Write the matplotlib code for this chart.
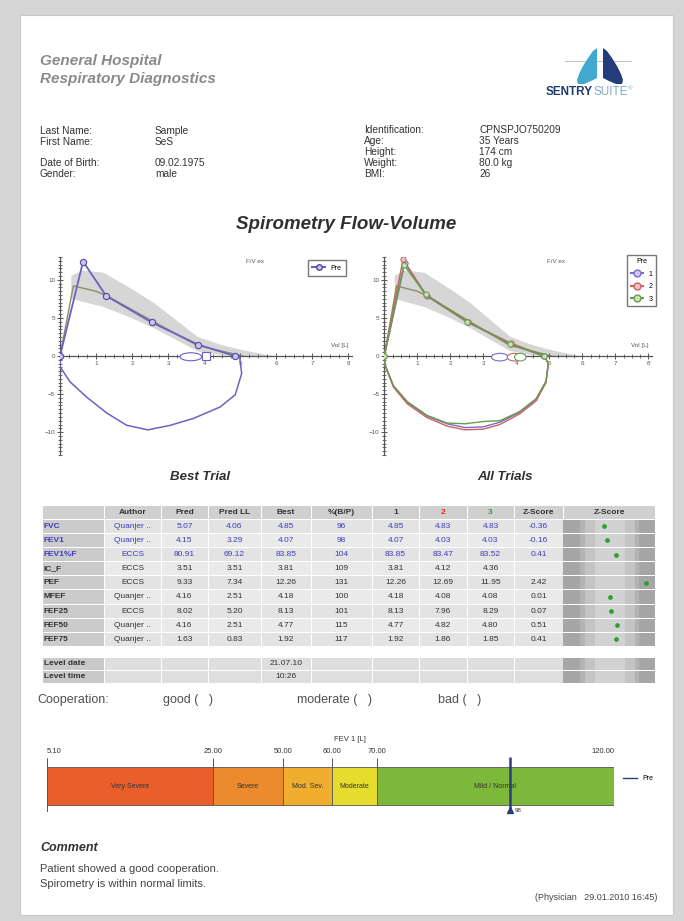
import numpy as np
import matplotlib
matplotlib.use('Agg')
import matplotlib.pyplot as plt
from matplotlib.patches import Rectangle, Ellipse, Polygon
from matplotlib.lines import Line2D
from matplotlib.ticker import MultipleLocator

plt.rcParams['font.family'] = ['Liberation Sans', 'DejaVu Sans']

# ---------------- data ----------------
hospital_lines = ["General Hospital", "Respiratory Diagnostics"]
left_labels = ["Last Name:", "First Name:", "Date of Birth:", "Gender:"]
left_values = ["Sample", "SeS", "09.02.1975", "male"]
right_labels = ["Identification:", "Age:", "Height:", "Weight:", "BMI:"]
right_values = ["CPNSPJO750209", "35 Years", "174 cm", "80.0 kg", "26"]

# predicted curve and normal band (flow-volume)
pred_vol = [0.0, 0.37, 1.0, 1.3, 2.6, 3.8, 5.07]
pred_flow = [0.0, 9.2, 8.5, 7.9, 4.5, 1.4, 0.0]
band_vol = [0.3, 0.6, 1.2, 2.0, 2.6, 3.2, 3.8, 4.4, 4.9, 5.5, 6.0]
band_upper = [10.6, 11.3, 11.0, 8.8, 7.0, 4.8, 2.6, 1.6, 1.0, 0.4, 0.0]
band_lower = [7.6, 7.2, 6.5, 5.0, 3.7, 2.2, 0.7, 0.2, 0.0, 0.0, 0.0]

# best trial
best_exp_vol = [0.0, 0.64, 1.28, 2.55, 3.83, 4.85]
best_exp_flow = [0.0, 12.4, 7.9, 4.4, 1.5, 0.0]
best_insp_vol = [0.0, 0.0, 0.28, 0.74, 1.3, 1.85, 2.44, 3.06, 3.7, 4.44, 4.86, 5.04, 4.98]
best_insp_flow = [0.0, -1.4, -3.4, -5.4, -7.5, -9.1, -9.7, -9.1, -8.2, -6.7, -5.1, -2.3, 0.0]

# all trials
t1_exp_vol = [0.0, 0.62, 1.28, 2.55, 3.83, 4.85]
t1_exp_flow = [0.0, 12.26, 7.9, 4.4, 1.6, 0.0]
t2_exp_vol = [0.0, 0.57, 1.26, 2.54, 3.83, 4.83]
t2_exp_flow = [0.0, 12.69, 8.0, 4.4, 1.7, 0.0]
t3_exp_vol = [0.0, 0.60, 1.25, 2.52, 3.80, 4.83]
t3_exp_flow = [0.0, 11.95, 8.1, 4.5, 1.6, 0.0]
insp_vol = [0.0, 0.02, 0.28, 0.7, 1.3, 1.9, 2.45, 3.0, 3.5, 4.1, 4.6, 4.9, 4.97, 4.85]
t1_insp_flow = [0.0, -1.2, -4.0, -6.1, -7.9, -8.9, -9.4, -9.3, -8.7, -7.4, -5.7, -3.4, -1.0, 0.0]
t2_insp_flow = [0.0, -1.2, -4.1, -6.3, -8.1, -9.2, -9.7, -9.6, -9.0, -7.6, -5.9, -3.5, -1.0, 0.0]
t3_insp_flow = [0.0, -1.1, -3.9, -6.0, -7.8, -8.8, -8.9, -8.6, -8.5, -7.3, -5.6, -3.3, -1.0, 0.0]
trial_labels = ["1", "2", "3"]

# table
table_header = ["", "Author", "Pred", "Pred LL", "Best", "%(B/P)", "1", "2", "3", "Z-Score", "Z-Score"]
param_names = ["FVC", "FEV1", "FEV1%F", "IC_F", "PEF", "MFEF", "FEF25", "FEF50", "FEF75"]
authors = ["Quanjer ..", "Quanjer ..", "ECCS", "ECCS", "ECCS", "Quanjer ..", "ECCS", "Quanjer ..", "Quanjer .."]
pred_vals = [5.07, 4.15, 80.91, 3.51, 9.33, 4.16, 8.02, 4.16, 1.63]
pred_ll = [4.06, 3.29, 69.12, 3.51, 7.34, 2.51, 5.20, 2.51, 0.83]
best_vals = [4.85, 4.07, 83.85, 3.81, 12.26, 4.18, 8.13, 4.77, 1.92]
pct_best_pred = [96, 98, 104, 109, 131, 100, 101, 115, 117]
trial1_vals = [4.85, 4.07, 83.85, 3.81, 12.26, 4.18, 8.13, 4.77, 1.92]
trial2_vals = [4.83, 4.03, 83.47, 4.12, 12.69, 4.08, 7.96, 4.82, 1.86]
trial3_vals = [4.83, 4.03, 83.52, 4.36, 11.95, 4.08, 8.29, 4.80, 1.85]
z_scores = [-0.36, -0.16, 0.41, None, 2.42, 0.01, 0.07, 0.51, 0.41]
level_labels = ["Level date", "Level time"]
level_values = ["21.07.10", "10:26"]
coop_labels = ["Cooperation:", "good (   )", "moderate (   )", "bad (   )"]

# FEV1 severity bar
fev1_bounds = [5.10, 25.00, 50.00, 60.00, 70.00, 120.00]
severity = ["Very Severe", "Severe", "Mod. Sev.", "Moderate", "Mild / Normal"]
severity_colors = ["#e85f2c", "#ec8a2e", "#efae2e", "#e6dc2e", "#7cb83a"]
fev1_pre = 98

comment_title = "Comment"
comment_lines = ["Patient showed a good cooperation.", "Spirometry is within normal limits."]
physician = "(Physician   29.01.2010 16:45)"

# ---------------- layout helpers ----------------
W, H = 684, 921
fig = plt.figure(figsize=(W / 100, H / 100), dpi=100)
fig.patch.set_facecolor('#d5d5d5')


def rect(x0, y0, x1, y1):
    return [x0 / W, 1 - y1 / H, (x1 - x0) / W, (y1 - y0) / H]


bg = fig.add_axes([0, 0, 1, 1])
bg.set_xlim(0, W)
bg.set_ylim(H, 0)
bg.axis('off')
bg.add_patch(Rectangle((20, 15), 653, 900, fc='white', ec='#c8c8c8', lw=0.8))

# header
for i, t in enumerate(hospital_lines):
    bg.text(40, 61 + i * 18, t, fontsize=11, fontweight='bold', style='italic',
            color='#8a8a8a', va='center', ha='left')

# logo
bg.plot([565, 631], [61, 61], color='#b5b5b5', lw=0.6, zorder=1)
left_lung = [(597, 48), (593, 51), (588, 58), (583, 66), (579, 74), (577, 80), (578, 84),
             (584, 84), (591, 81), (597, 78)]
right_lung = [(2 * 600 - x, y) for x, y in left_lung]
bg.add_patch(Polygon(left_lung, closed=True, fc='#3fa9cf', ec='none', zorder=2))
bg.add_patch(Polygon(right_lung, closed=True, fc='#253c7a', ec='none', zorder=2))
t_sentry = bg.text(546, 92, "SENTRY", fontsize=8.5, fontweight='bold', color='#1f3a6c',
                   va='center', ha='left')
t_suite = bg.annotate("SUITE", xy=(1, 0), xycoords=t_sentry, fontsize=8.5, color='#7fa9c4',
                      va='bottom', ha='left')
bg.annotate("\u00ae", xy=(1, 0.55), xycoords=t_suite, fontsize=4.5, color='#7fa9c4',
            va='bottom', ha='left')

# patient info
left_y = [131, 142, 163, 174]
for y, lab, val in zip(left_y, left_labels, left_values):
    bg.text(40, y, lab, fontsize=7.3, color='#333333', va='center')
    bg.text(155, y, val, fontsize=7.3, color='#333333', va='center')
right_y = [130, 141, 152, 163, 174]
for y, lab, val in zip(right_y, right_labels, right_values):
    bg.text(364, y, lab, fontsize=7.3, color='#333333', va='center')
    bg.text(479, y, val, fontsize=7.3, color='#333333', va='center')

bg.text(346, 224, "Spirometry Flow-Volume", fontsize=13.5, fontweight='bold', style='italic',
        color='#303030', ha='center', va='center')
bg.text(200, 477, "Best Trial", fontsize=9.5, fontweight='bold', style='italic',
        color='#303030', ha='center', va='center')
bg.text(505, 477, "All Trials", fontsize=9.5, fontweight='bold', style='italic',
        color='#303030', ha='center', va='center')


def style_fv(ax):
    ax.set_xlim(0, 8.1)
    ax.set_ylim(-13, 13)
    ax.patch.set_alpha(0)
    for s in ['top', 'right']:
        ax.spines[s].set_visible(False)
    ax.spines['left'].set_position(('data', 0))
    ax.spines['bottom'].set_position(('data', 0))
    for s in ['left', 'bottom']:
        ax.spines[s].set_color('#555555')
        ax.spines[s].set_linewidth(0.9)
    ax.set_xticks(range(1, 9))
    ax.set_yticks([-10, -5, 0, 5, 10])
    ax.xaxis.set_minor_locator(MultipleLocator(0.25))
    ax.yaxis.set_minor_locator(MultipleLocator(0.5))
    ax.tick_params(which='major', direction='inout', length=4, width=0.7, color='#555555',
                   labelsize=4.5, labelcolor='#555555', pad=1.5)
    ax.tick_params(which='minor', direction='inout', length=2.4, width=0.6, color='#555555')
    ax.text(8.0, 1.0, "Vol [L]", fontsize=4.5, color='#555555', ha='right', va='bottom')
    ax.fill_between(band_vol, band_lower, band_upper, color='#d6d6d6', lw=0, zorder=1)
    ax.plot(pred_vol, pred_flow, color='#8e8a66', lw=1.0, zorder=2)


# ---- Best trial ----
ax1 = fig.add_axes(rect(60, 257, 352, 455))
style_fv(ax1)
pre_col = '#6a62c2'
ax1.plot(best_insp_vol, best_insp_flow, color=pre_col, lw=1.1, zorder=3)
ax1.plot(best_exp_vol, best_exp_flow, color=pre_col, lw=1.3, marker='o', ms=4.5,
         mfc='#c9c5ee', mec='#5048a8', mew=0.8, zorder=4)
ax1.add_patch(Ellipse((3.63, -0.1), 0.6, 1.05, fc='white', ec=pre_col, lw=0.8, zorder=5))
ax1.add_patch(Rectangle((3.95, -0.55), 0.22, 1.1, fc='white', ec=pre_col, lw=0.8, zorder=5))
ax1.text(5.4, 12.4, "F/V ex", fontsize=4.5, color='#555555', ha='center', va='center')
ax1.legend([Line2D([], [], color=pre_col, marker='o', ms=4, mfc='#c9c5ee', mec='#5048a8')],
           ["Pre"], loc='upper right', bbox_to_anchor=(0.99, 1.0), fontsize=5,
           fancybox=False, edgecolor='#777777', handlelength=1.8, borderpad=0.6,
           framealpha=1)

# ---- All trials ----
ax2 = fig.add_axes(rect(384.3, 257, 651.6, 455))
style_fv(ax2)
trial_cols = ['#7a6cc9', '#c86464', '#6a9c4c']
trial_fill = ['#cfc8f0', '#efc2c2', '#c8e0b8']
insp_sets = [t1_insp_flow, t2_insp_flow, t3_insp_flow]
exp_sets = [(t1_exp_vol, t1_exp_flow), (t2_exp_vol, t2_exp_flow), (t3_exp_vol, t3_exp_flow)]
for col, fl in zip(trial_cols, insp_sets):
    ax2.plot(insp_vol, fl, color=col, lw=1.0, zorder=3)
handles = []
for col, fc, (v, f) in zip(trial_cols, trial_fill, exp_sets):
    ax2.plot(v, f, color=col, lw=1.1, marker='o', ms=3.8, mfc=fc, mec=col, mew=0.7, zorder=4)
    handles.append(Line2D([], [], color=col, marker='o', ms=5, mfc=fc, mec=col))
for (cx, w), col in zip([(3.5, 0.5), (3.95, 0.45), (4.12, 0.35)], trial_cols):
    ax2.add_patch(Ellipse((cx, -0.15), w, 1.0, fc='white', ec=col, lw=0.8, zorder=5))
ax2.text(5.2, 12.4, "F/V ex", fontsize=4.5, color='#555555', ha='center', va='center')
ax2.legend(handles, trial_labels, title="Pre", loc='upper right', bbox_to_anchor=(1.03, 1.03),
           fontsize=5, title_fontsize=5, fancybox=False, edgecolor='#777777',
           handlelength=1.8, borderpad=0.5, framealpha=1, labelspacing=0.8)

# ---------------- table ----------------
col_edges = [42, 104, 161, 208, 261, 311, 372, 419, 467, 514, 563, 655]
tab_top, row_h = 505, 14.15
lvl_top, lvl_h = 657, 13.0
tab = fig.add_axes(rect(42, 505, 655, 684))
tab.set_xlim(42, 655)
tab.set_ylim(684, 505)
tab.axis('off')

zax = fig.add_axes(rect(563, 505, 655, 684))
zax.set_xlim(-3.1, 3.0)
zax.set_ylim(684, 505)
zax.axis('off')
z_band_edges = [-3.1, -1.96, -1.645, -1.0, 1.0, 1.645, 1.96, 3.0]
z_band_cols = ['#a6a6a6', '#b3b3b3', '#c4c4c4', '#d2d2d2', '#c4c4c4', '#b3b3b3', '#a6a6a6']

blue = '#3c3cc0'
dark = '#333333'
fs = 6

# header row
for c in range(11):
    x0, x1 = col_edges[c], col_edges[c + 1]
    tab.add_patch(Rectangle((x0 + 0.5, tab_top + 0.5), x1 - x0 - 1, row_h - 1,
                            fc='#d0d0d0', ec='none'))
    col = dark
    if table_header[c] == "2":
        col = '#e02828'
    elif table_header[c] == "3":
        col = '#3a9a3a'
    tab.text((x0 + x1) / 2, tab_top + row_h / 2, table_header[c], fontsize=fs,
             fontweight='bold', color=col, ha='center', va='center')

for r in range(len(param_names)):
    y0 = tab_top + (r + 1) * row_h
    yc = y0 + row_h / 2
    tc = blue if r < 3 else dark
    cells = [param_names[r], authors[r], f"{pred_vals[r]:.2f}", f"{pred_ll[r]:.2f}",
             f"{best_vals[r]:.2f}", f"{pct_best_pred[r]}", f"{trial1_vals[r]:.2f}",
             f"{trial2_vals[r]:.2f}", f"{trial3_vals[r]:.2f}",
             "" if z_scores[r] is None else f"{z_scores[r]:.2f}"]
    for c in range(10):
        x0, x1 = col_edges[c], col_edges[c + 1]
        fc = '#cbcbcb' if c == 0 else ('#e3e3e3' if r % 2 == 0 else '#eaeaea')
        tab.add_patch(Rectangle((x0 + 0.5, y0 + 0.5), x1 - x0 - 1, row_h - 1, fc=fc, ec='none'))
        if c == 0:
            tab.text(x0 + 2, yc, cells[c], fontsize=fs, fontweight='bold', color=tc,
                     ha='left', va='center')
        else:
            tab.text((x0 + x1) / 2, yc, cells[c], fontsize=fs, color=tc,
                     ha='center', va='center')
    for k in range(len(z_band_cols)):
        zax.add_patch(Rectangle((z_band_edges[k], y0 + 0.5), z_band_edges[k + 1] - z_band_edges[k],
                                row_h - 1, fc=z_band_cols[k], ec='none'))
    if z_scores[r] is not None:
        zax.plot([z_scores[r]], [yc], 'o', color='#2ca02c', ms=2.4, zorder=5)

for r in range(2):
    y0 = lvl_top + r * lvl_h
    yc = y0 + lvl_h / 2
    for c in range(10):
        x0, x1 = col_edges[c], col_edges[c + 1]
        fc = '#c9c9c9' if c == 0 else '#dedede'
        tab.add_patch(Rectangle((x0 + 0.5, y0 + 0.5), x1 - x0 - 1, lvl_h - 1, fc=fc, ec='none'))
    tab.text(col_edges[0] + 2, yc, level_labels[r], fontsize=fs, fontweight='bold',
             color=dark, ha='left', va='center')
    tab.text((col_edges[4] + col_edges[5]) / 2, yc, level_values[r], fontsize=fs,
             color=dark, ha='center', va='center')
    for k in range(len(z_band_cols)):
        zax.add_patch(Rectangle((z_band_edges[k], y0 + 0.5), z_band_edges[k + 1] - z_band_edges[k],
                                lvl_h - 1, fc=z_band_cols[k], ec='none'))

# cooperation
for x, t in zip([37, 163, 297, 438], coop_labels):
    bg.text(x, 700, t, fontsize=9, color='#505050', ha='left', va='center')

# ---------------- FEV1 severity bar ----------------
band_pos = [0.0, 0.2926, 0.4165, 0.5024, 0.5817, 1.0]


def fwd(v):
    return np.interp(v, fev1_bounds, band_pos)


def inv(p):
    return np.interp(p, band_pos, fev1_bounds)


bx = fig.add_axes(rect(46.7, 757, 614, 812))
bx.set_xscale('function', functions=(fwd, inv))
bx.set_xlim(fev1_bounds[0], fev1_bounds[-1])
bx.set_ylim(0, 1)
bx.patch.set_alpha(0)
for s in bx.spines.values():
    s.set_visible(False)
bx.set_yticks([])
lefts = fev1_bounds[:-1]
widths = np.diff(fev1_bounds)
bx.barh(0.4727, widths, left=lefts, height=0.691, color=severity_colors,
        edgecolor='#555555', lw=0.6)
for l, w, name in zip(lefts, widths, severity):
    bx.text(inv((fwd(l) + fwd(l + w)) / 2), 0.4727, name, fontsize=5, color='#333333',
            ha='center', va='center')
bx.vlines(fev1_bounds, 0.818, 0.99, color='#555555', lw=0.7)
bx.vlines([fev1_bounds[0], fev1_bounds[-1]], 0.0, 0.99, color='#555555', lw=0.7)
bx.xaxis.set_ticks_position('top')
bx.set_xticks(fev1_bounds)
bx.set_xticklabels([f"{b:.2f}" for b in fev1_bounds])
bx.tick_params(axis='x', length=0, pad=1.5, labelsize=5.5, labelcolor='#333333')
labs = bx.get_xticklabels()
labs[0].set_ha('left')
labs[-1].set_ha('right')
navy = '#2c3e7a'
bx.vlines(fev1_pre, 0.03, 1.0, color=navy, lw=1.8, zorder=5)
bx.plot([fev1_pre], [0.03], marker='^', color=navy, ms=5, zorder=6, clip_on=False)
bx.annotate(f"{fev1_pre}", xy=(fev1_pre, 0.03), xytext=(4, 0), textcoords='offset points',
            fontsize=4.5, color='#333333', va='center', ha='left')
bx.legend([Line2D([], [], color=navy, lw=1)], ["Pre"], loc='center left',
          bbox_to_anchor=(1.005, 0.6), frameon=False, fontsize=5, handlelength=2.0)
bg.text(350, 739, "FEV 1 [L]", fontsize=5.5, color='#333333', ha='center', va='center')

# ---------------- comment ----------------
bg.text(40, 848, comment_title, fontsize=9, fontweight='bold', style='italic',
        color='#333333', va='center')
for i, t in enumerate(comment_lines):
    bg.text(40, 869 + i * 15, t, fontsize=8, color='#444444', va='center')
bg.text(657, 897, physician, fontsize=6.5, color='#444444', ha='right', va='center')

fig.savefig('out.png', dpi=100, facecolor=fig.get_facecolor())
